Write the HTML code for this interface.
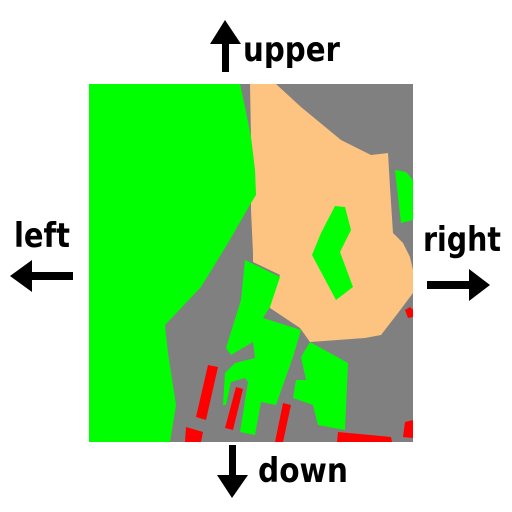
<!DOCTYPE html>
<html><head><meta charset="utf-8"><style>
html,body{margin:0;padding:0;background:#fff;}
svg{display:block;}
text{font-family:"DejaVu Sans","Liberation Sans",sans-serif;font-weight:bold;fill:#000;}
</style></head><body>
<svg width="512" height="512" viewBox="0 0 512 512">
<g>
<rect x="89" y="84" width="324" height="358" fill="#808080"/>
<polygon fill="#00ff00" points="89,84 240,84 245,107 251,137 255,170 256,195 251,203 228,243 201,287 165,325 168,353 176,405 170,442 89,442"/>
<polygon fill="#fdc380" points="250,84 276,84 301,107 341,140 371,155 388,153 390,187 393,233 403,243 410,257 413,270 413,293 398,313 381,335 365,338 310,342 300,328 270,308 271,297 280,275 276,273 253,262 253,253 251,210 251,203 256,195 255,170 251,137"/>
<polygon fill="#00ff00" points="335,206 345,207 351,230 340,252 353,287 336,300 312,255 321,233"/>
<polygon fill="#00ff00" points="395,170 406,172 413,180 413,220 401,223 398,197"/>
<polygon fill="#00ff00" points="245,260 280,277 270,307 263,318 301,330 293,357 276,405 261,402 255,435 240,432 248,382 245,378 231,382 226,405 223,405 225,373 235,363 255,358 253,342 231,355 226,348 241,300"/>
<polygon fill="#00ff00" points="310,342 348,363 345,430 318,425 313,405 293,398 296,380 306,380 301,357"/>
<polygon fill="#ff0000" points="208,365 218,367 206,420 196,417"/>
<polygon fill="#ff0000" points="236,387 243,389 233,430 225,428"/>
<polygon fill="#ff0000" points="283,403 291,405 283,442 275,442"/>
<polygon fill="#ff0000" points="186,427 203,432 201,442 185,442"/>
<polygon fill="#ff0000" points="338,432 391,437 392,442 337,442"/>
<polygon fill="#ff0000" points="405,422 413,420 413,438 403,437"/>
<polygon fill="#ff0000" points="405,310 410,307 413,310 413,317 408,318"/>
</g>
<g>
<polygon fill="#000" points="225,20 241,44 229,44 229,72 222,72 222,44 210,44"/>
<text x="243" y="61" font-size="34" textLength="97" lengthAdjust="spacingAndGlyphs">upper</text>
</g>
<g>
<text x="14" y="247" font-size="34" textLength="56" lengthAdjust="spacingAndGlyphs">left</text>
<polygon fill="#000" points="10,276 32,260 32,272 73,272 73,280 32,280 32,292"/>
</g>
<g>
<text x="423" y="251" font-size="34" textLength="78" lengthAdjust="spacingAndGlyphs">right</text>
<polygon fill="#000" points="490,285 469,269 469,281 427,281 427,289 469,289 469,301"/>
</g>
<g>
<polygon fill="#000" points="232,498 248,475 236,475 236,445 229,445 229,475 217,475"/>
<text x="258" y="482" font-size="34" textLength="90" lengthAdjust="spacingAndGlyphs">down</text>
</g>
</svg>
</body></html>
